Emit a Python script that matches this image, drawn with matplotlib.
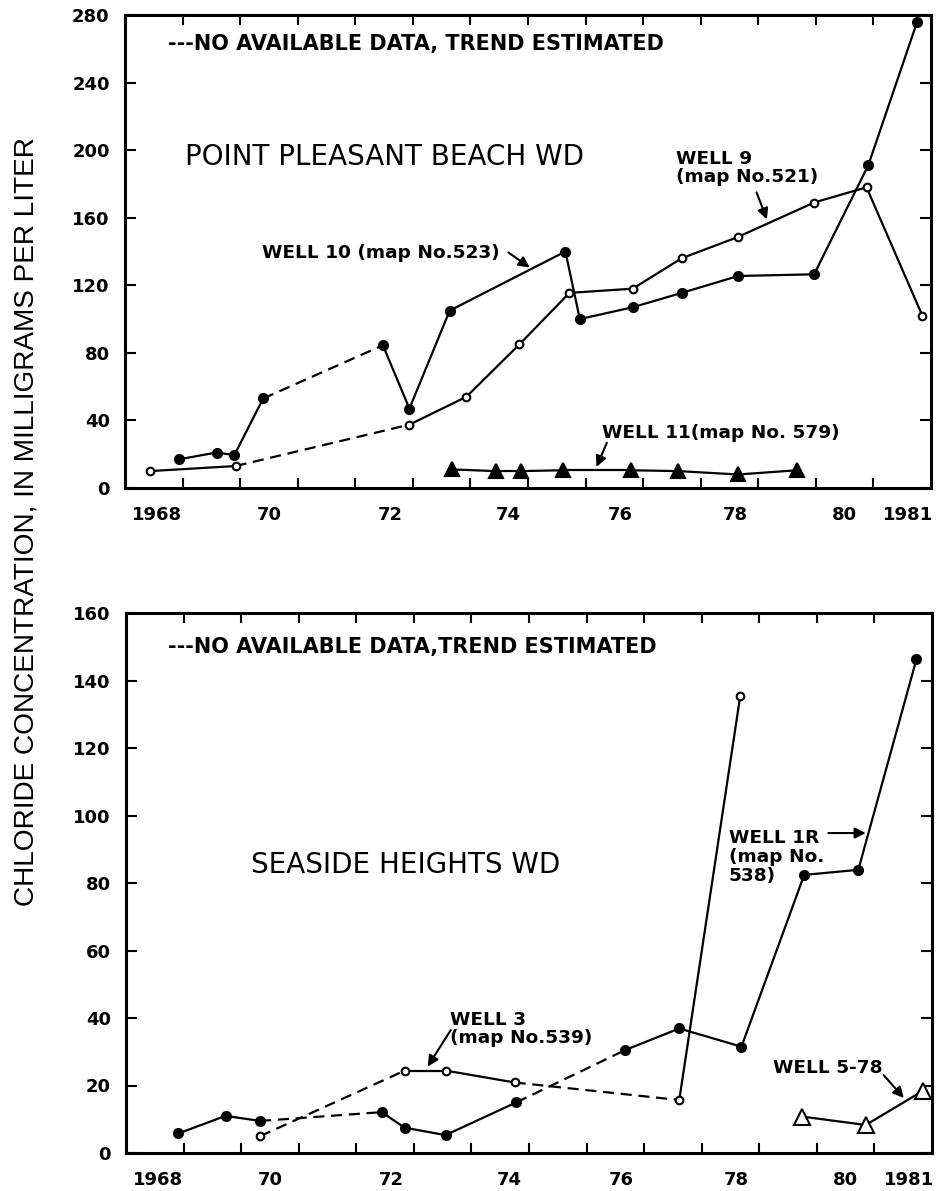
import matplotlib
matplotlib.use("Agg")
import matplotlib.pyplot as plt

# ---------------- data ----------------
# Point Pleasant Beach WD
well9_x = [1968.43, 1969.92, 1972.94, 1973.93, 1974.85, 1975.72, 1976.82, 1977.67, 1978.64, 1979.97, 1980.88, 1981.85]
well9_y = [10, 13, 37.5, 54, 85, 115.5, 118, 136, 148.5, 169, 178, 102]
well9_dashed = [1]

well10_x = [1968.94, 1969.59, 1969.90, 1970.40, 1972.48, 1972.94, 1973.64, 1975.65, 1975.90, 1976.82, 1977.67, 1978.65, 1979.97, 1980.91, 1981.76]
well10_y = [17, 21, 19.5, 53, 84.5, 47, 105, 140, 100, 107, 115.5, 125.5, 126.5, 191, 276]
well10_dashed = [3]

well11_x = [1973.68, 1974.44, 1974.87, 1975.60, 1976.79, 1977.61, 1978.65, 1979.67]
well11_y = [11, 10, 10, 10.5, 10.5, 10, 8, 10.5]

# Seaside Heights WD
well1r_x = [1968.91, 1969.73, 1970.33, 1972.44, 1972.84, 1973.55, 1974.78, 1976.67, 1977.61, 1978.69, 1979.78, 1980.72, 1981.73]
well1r_y = [5.8, 11.0, 9.5, 12.1, 7.5, 5.3, 15.0, 30.5, 36.9, 31.5, 82.4, 83.9, 146.3]
well1r_dashed = [2, 6]

well3_x = [1970.33, 1972.84, 1973.56, 1974.75, 1977.61, 1978.67]
well3_y = [5.0, 24.4, 24.4, 20.9, 15.7, 135.5]
well3_dashed = [0, 3]

well578_x = [1979.74, 1980.85, 1981.85]
well578_y = [10.8, 8.3, 18.5]

year_ticks = list(range(1969, 1982))
year_label_pos = [1968.55, 1970.5, 1972.6, 1974.65, 1976.6, 1978.6, 1980.5, 1981.6]
year_labels = ["1968", "70", "72", "74", "76", "78", "80", "1981"]
top_yticks = [0, 40, 80, 120, 160, 200, 240, 280]
bot_yticks = [0, 20, 40, 60, 80, 100, 120, 140, 160]

# ---------------- style ----------------
FONT = "DejaVu Sans"
LW = 1.6
DASH = (5, 3)

fig = plt.figure(figsize=(9.37, 11.91), dpi=100)
ax1 = fig.add_axes([125/937, 1-488/1191, 806/937, 473/1191])
ax2 = fig.add_axes([126/937, 1-1153/1191, 806/937, 540/1191])


def draw_series(ax, xs, ys, dashed, marker, ms, filled):
    for i in range(len(xs) - 1):
        if i in dashed:
            ax.plot(xs[i:i+2], ys[i:i+2], color="black", lw=LW, ls=(0, DASH),
                    solid_capstyle="butt", zorder=2)
        else:
            ax.plot(xs[i:i+2], ys[i:i+2], color="black", lw=LW, zorder=2)
    ax.plot(xs, ys, ls="none", marker=marker, ms=ms,
            mfc="black" if filled else "white", mec="black", mew=1.5, zorder=3)


def style_axes(ax, ymax, yticks):
    ax.set_xlim(1968, 1982)
    ax.set_ylim(0, ymax)
    for s in ax.spines.values():
        s.set_linewidth(2.2)
    ax.set_xticks(year_ticks, minor=True)
    ax.set_xticks(year_label_pos)
    ax.set_xticklabels(year_labels)
    ax.tick_params(axis="x", which="minor", direction="in", top=True, bottom=True,
                   length=7.5, width=1.5)
    ax.tick_params(axis="x", which="major", length=0, pad=13)
    ax.set_yticks(yticks)
    ax.tick_params(axis="y", which="major", direction="in", left=True, right=True,
                   length=8, width=1.5, pad=11)
    for lab in ax.get_xticklabels() + ax.get_yticklabels():
        lab.set_fontfamily(FONT)
        lab.set_fontweight("bold")
        lab.set_fontsize(13)


# ---------------- top panel ----------------
draw_series(ax1, well9_x, well9_y, well9_dashed, "o", 5.5, False)
draw_series(ax1, well10_x, well10_y, well10_dashed, "o", 6.5, True)
draw_series(ax1, well11_x, well11_y, [], "^", 9.5, True)
style_axes(ax1, 280, top_yticks)

ax1.text(1968.75, 262.7, "---NO AVAILABLE DATA, TREND ESTIMATED", fontsize=15,
         fontweight="bold", family=FONT, ha="left", va="center")
ax1.text(1969.04, 195.7, "POINT PLEASANT BEACH WD", fontsize=20, family=FONT,
         ha="left", va="center")
ax1.text(1970.38, 139.4, "WELL 10 (map No.523)", fontsize=13.3, fontweight="bold",
         family=FONT, ha="left", va="center")
ax1.text(1977.57, 189.5, "WELL 9\n(map No.521)", fontsize=13.3, fontweight="bold",
         family=FONT, ha="left", va="center", linespacing=1.0)
ax1.text(1976.28, 32.8, "WELL 11(map No. 579)", fontsize=13.3, fontweight="bold",
         family=FONT, ha="left", va="center")

arrow = dict(arrowstyle="-|>", lw=1.5, color="black", mutation_scale=16,
             shrinkA=0, shrinkB=0)
ax1.annotate("", xy=(1975.03, 130.5), xytext=(1974.66, 139.4), arrowprops=arrow)
ax1.annotate("", xy=(1979.15, 159), xytext=(1978.97, 175), arrowprops=arrow)
ax1.annotate("", xy=(1976.19, 12.5), xytext=(1976.37, 26.8), arrowprops=arrow)

# ---------------- bottom panel ----------------
draw_series(ax2, well3_x, well3_y, well3_dashed, "o", 5.5, False)
draw_series(ax2, well1r_x, well1r_y, well1r_dashed, "o", 6.5, True)
draw_series(ax2, well578_x, well578_y, [], "^", 11, False)
style_axes(ax2, 160, bot_yticks)

ax2.text(1968.73, 150.0, "---NO AVAILABLE DATA,TREND ESTIMATED", fontsize=15,
         fontweight="bold", family=FONT, ha="left", va="center")
ax2.text(1970.17, 85.3, "SEASIDE HEIGHTS WD", fontsize=20, family=FONT,
         ha="left", va="center")
ax2.text(1973.62, 36.6, "WELL 3\n(map No.539)", fontsize=13.3, fontweight="bold",
         family=FONT, ha="left", va="center", linespacing=1.0)
ax2.text(1978.47, 87.7, "WELL 1R\n(map No.\n538)", fontsize=13.3, fontweight="bold",
         family=FONT, ha="left", va="center", linespacing=1.05)
ax2.text(1979.23, 25.2, "WELL 5-78", fontsize=13.3, fontweight="bold",
         family=FONT, ha="left", va="center")

ax2.annotate("", xy=(1973.24, 25.6), xytext=(1973.64, 36.4), arrowprops=arrow)
ax2.annotate("", xy=(1980.85, 94.8), xytext=(1980.2, 94.8), arrowprops=arrow)
ax2.annotate("", xy=(1981.51, 16.3), xytext=(1981.16, 23.1), arrowprops=arrow)

fig.text(27/937, 1-522/1191, "CHLORIDE CONCENTRATION, IN MILLIGRAMS PER LITER",
         rotation=90, ha="center", va="center", fontsize=20.2, family="Liberation Sans")

fig.savefig("out.png", dpi=100)
